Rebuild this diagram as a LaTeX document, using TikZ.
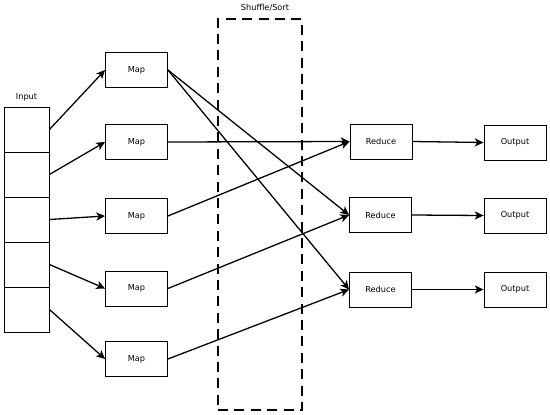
\documentclass[tikz,border=0pt]{standalone}
\usepackage{fontspec}
\setmainfont{DejaVu Sans}
\usetikzlibrary{arrows.meta, positioning, calc}

\begin{document}
\begin{tikzpicture}[
    x=0.03cm, y=-0.03cm,
    stage/.style={draw, minimum width=1.86cm, minimum height=1.05cm, align=center, font=\scriptsize, line width=0.75pt},
    cell/.style={draw, minimum width=1.35cm, minimum height=1.35cm, line width=0.75pt},
    arrow/.style={-{Stealth[length=7.5pt, width=7pt, inset=2pt]}, line width=1.1pt}
]
    \useasboundingbox (0,0) rectangle (550,415);

    % Input
    \foreach \i in {1,...,5}
        \node[cell] (in\i) at (26.5, 84.5+45*\i) {};
    \node[above=1pt of in1, font=\scriptsize] (inlabel) {Input};

    % Shuffle/Sort
    \node[draw, line width=1.1pt, dash pattern=on 8.5pt off 5.5pt, minimum width=2.52cm, minimum height=11.73cm] (shuffle) at (260, 214.5) {};
    \node[font=\scriptsize] (shufflelabel) at (265, 8) {Shuffle/Sort};

    % Map
    \node[stage] (map1) at (136.5, 70) {Map};
    \node[stage] (map2) at (136.5, 142) {Map};
    \node[stage] (map3) at (136.5, 216) {Map};
    \node[stage] (map4) at (136.5, 288.5) {Map};
    \node[stage] (map5) at (136.5, 359) {Map};

    % Reduce
    \node[stage] (red1) at (381, 141.5) {Reduce};
    \node[stage] (red2) at (380.5, 215) {Reduce};
    \node[stage] (red3) at (380.5, 289.5) {Reduce};

    % Output
    \node[stage] (out1) at (515, 142.5) {Output};
    \node[stage] (out2) at (515, 215.5) {Output};
    \node[stage] (out3) at (515, 289.5) {Output};

    \foreach \i in {1,...,5}
        \draw[arrow] (in\i.east) -- (map\i.west);

    \draw[arrow] (map1.east) -- (red2.west);
    \draw[arrow] (map1.east) -- (red3.west);
    \draw[arrow] (map2.east) -- (red1.west);
    \draw[arrow] (map3.east) -- (red1.west);
    \draw[arrow] (map4.east) -- (red2.west);
    \draw[arrow] (map5.east) -- (red3.west);

    \foreach \i in {1,2,3}
        \draw[arrow] (red\i.east) -- (out\i.west);
\end{tikzpicture}
\end{document}
